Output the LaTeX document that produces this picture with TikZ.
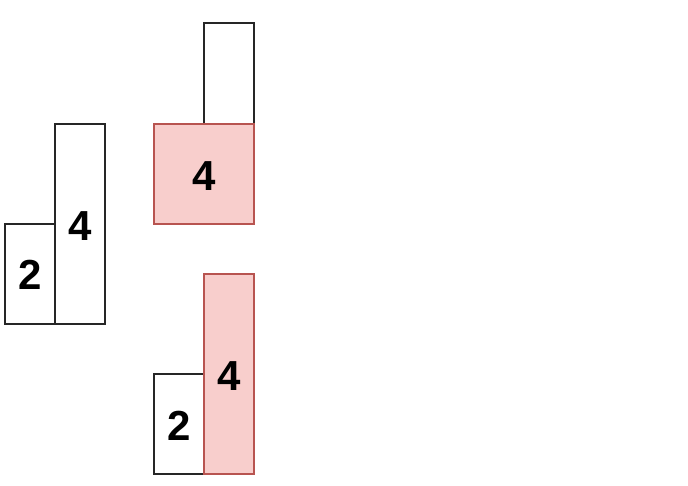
\documentclass[tikz,border=0pt]{standalone}
\usepackage{fontspec}
\setmainfont{Liberation Sans}
\definecolor{pinkfill}{HTML}{F8CECC}
\definecolor{pinkline}{HTML}{B85450}
\definecolor{darkline}{HTML}{262626}
\begin{document}
\begin{tikzpicture}[x=1pt,y=-1pt,
  bar/.style={draw=darkline,line width=1.7pt,fill=white},
  pinkbar/.style={draw=pinkline,line width=1.7pt,fill=pinkfill},
  num/.style={font=\fontsize{42}{44}\selectfont\bfseries,inner sep=0pt}]
\useasboundingbox (0,0) rectangle (688,486);
% left group
\draw[bar] (5,224) rectangle (55,324);
\draw[bar] (55,124) rectangle (105,324);
\node[num] (l2) at (30,275) {2};
\node[num] (l4) at (80,226) {4};
% top middle group
\draw[bar] (204,23) rectangle (254,124);
\draw[pinkbar] (154,124) rectangle (254,224);
\node[num] (t4) at (204,176) {4};
% bottom middle group
\draw[bar] (154,374) rectangle (204,474);
\draw[pinkbar] (204,274) rectangle (254,474);
\node[num] (b2) at (179,426) {2};
\node[num] (b4) at (229,376) {4};
\end{tikzpicture}
\end{document}
